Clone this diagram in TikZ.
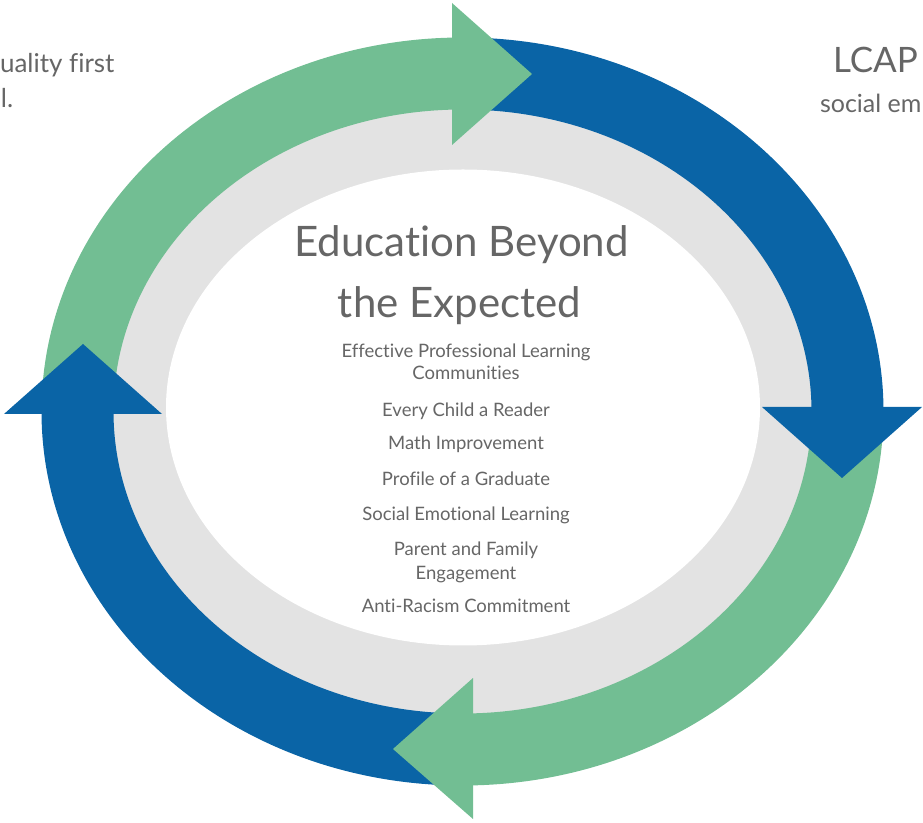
\documentclass[tikz,border=0pt]{standalone}
\usepackage{fontspec}
\setmainfont{Lato}[Ligatures=NoCommon]
\definecolor{grn}{HTML}{72BE93}
\definecolor{blu}{HTML}{0A64A6}
\definecolor{ringgray}{HTML}{E3E3E3}
\definecolor{txt}{HTML}{666666}
\newcommand\ringband[3]{%
  \fill[#1] ({462.5+421*cos(#2)},{410.5+374*sin(#2)})
    arc[start angle=#2, end angle=#3, x radius=421pt, y radius=374pt]
    -- ({462.5+349*cos(#3)},{410.5+302*sin(#3)})
    arc[start angle=#3, end angle=#2, x radius=349pt, y radius=302pt]
    -- cycle;}
\begin{document}
\begin{tikzpicture}[x=1pt,y=1pt,
  every node/.style={inner sep=0pt, outer sep=0pt, text=txt},
  titletext/.style={font=\fontsize{42}{48}\selectfont, anchor=base},
  itemtext/.style={font=\fontsize{18.5}{22}\selectfont, anchor=base},
  cornertext/.style={font=\fontsize{26}{30}\selectfont, anchor=base west}]
\useasboundingbox (0,0) rectangle (923,822);
\clip (0,0) rectangle (923,822);
% gray ring and white centre
\fill[ringgray] (462.5,410.5) ellipse[x radius=352pt, y radius=305pt];
\fill[white] (463,414.5) ellipse[x radius=297pt, y radius=238pt];
% bands
\ringband{grn}{178}{91}
\ringband{blu}{88}{0}
\ringband{grn}{-3}{-89}
\ringband{blu}{268}{180}
% heads
\fill[grn] (452,819) -- (532,748) -- (452,677) -- cycle;
\fill[blu] (762,415) -- (922,415) -- (842,344) -- cycle;
\fill[grn] (473,144) -- (393,73) -- (473,3) -- cycle;
\fill[blu] (4,408) -- (162,408) -- (83,478) -- cycle;
% texts
\node[titletext] (t1) at (461.5,565) {Education Beyond};
\node[titletext] (t2) at (459.5,504) {the Expected};
\node[itemtext] (i1) at (466,464) {Effective Professional Learning};
\node[itemtext] (i2) at (466,442) {Communities};
\node[itemtext] (i3) at (466,405.5) {Every Child a Reader};
\node[itemtext] (i4) at (466,372.5) {Math Improvement};
\node[itemtext] (i5) at (466,336.5) {Profile of a Graduate};
\node[itemtext] (i6) at (466,301.5) {Social Emotional Learning};
\node[itemtext] (i7) at (466,266.5) {Parent and Family};
\node[itemtext] (i8) at (466,242.5) {Engagement};
\node[itemtext] (i9) at (466,209) {Anti-Racism Commitment};
\node[cornertext] (c1) at (0,749.3) {uality first};
\node[cornertext] (c2) at (1,714) {l.};
\node[cornertext, font=\fontsize{35}{40}\selectfont] (c3) at (833,749.3) {LCAP};
\node[cornertext, font=\fontsize{25}{30}\selectfont] (c4) at (820,709) {social em};
\end{tikzpicture}
\end{document}
